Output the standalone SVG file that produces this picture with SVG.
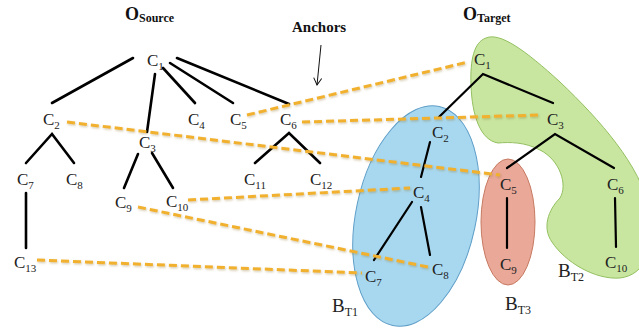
<svg xmlns="http://www.w3.org/2000/svg" width="639" height="333" viewBox="0 0 639 333">
<defs>
<style>
.lbl{font-family:"Liberation Serif","Times New Roman",serif;font-size:17px;fill:#222}
.sub{font-size:11px}
.blbl{font-family:"Liberation Serif","Times New Roman",serif;font-size:19px;fill:#222}
.bsub{font-size:12px}
.title{font-family:"Liberation Serif","Times New Roman",serif;font-weight:bold;fill:#111}
.edge{stroke:#000;stroke-width:2.6;stroke-linecap:round;fill:none}
.tedge{stroke:#000;stroke-width:2.2;stroke-linecap:round;fill:none}
.anchor{stroke:#F1B12E;stroke-width:3;stroke-dasharray:8 4;fill:none}
</style>
<filter id="sh" x="-5%" y="-50%" width="110%" height="200%">
<feDropShadow dx="0.8" dy="1.2" stdDeviation="0.8" flood-color="#806020" flood-opacity="0.35"/>
</filter>
<marker id="arr" markerWidth="10" markerHeight="10" refX="8" refY="5" orient="auto" markerUnits="userSpaceOnUse">
<path d="M1,1 L8,5 L1,9" fill="none" stroke="#111" stroke-width="1"/>
</marker>
</defs>
<rect width="639" height="333" fill="#fff"/>

<g id="blocks">
<path id="BT2-shape" d="M486,38 C500,32 525,50 560,82 C600,120 640,165 650,210 C655,250 645,275 620,278 C595,280 565,262 552,242 C542,228 548,210 560,198 C568,185 560,160 540,150 C525,142 510,142 498,143 C480,140 472,115 471,85 C470,60 474,42 486,38 Z" fill="#C8E6A0" stroke="#94C060" stroke-width="1"/>
<ellipse id="BT1-shape" cx="416" cy="216" rx="60" ry="112" transform="rotate(12 416 216)" fill="#A8D8EF" stroke="#5E9EC8" stroke-width="1"/>
<ellipse id="BT3-shape" cx="508" cy="222" rx="27" ry="63" fill="#E9A898" stroke="#C77A62" stroke-width="1"/>
</g>

<g id="titles">
<text class="title" x="125" y="20" font-size="18">O<tspan font-size="12" dy="2">Source</tspan></text>
<text class="title" x="463" y="20" font-size="18">O<tspan font-size="12" dy="2">Target</tspan></text>
<text id="anchors-label" class="title" x="292" y="32" font-size="15">Anchors</text>
<line x1="321" y1="45" x2="317" y2="85" stroke="#111" stroke-width="1" marker-end="url(#arr)"/>
</g>

<g id="connectors">
<g id="source-edges">
<line class="edge" x1="133" y1="58" x2="52" y2="103"/>
<line class="edge" x1="155" y1="74" x2="147" y2="132"/>
<line class="edge" x1="163" y1="68" x2="195" y2="103"/>
<line class="edge" x1="170" y1="63" x2="233" y2="103"/>
<line class="edge" x1="177" y1="58" x2="289" y2="104"/>
<polyline class="edge" points="26,163 52,134 74,163"/>
<polyline class="edge" points="124,188 138,154"/>
<polyline class="edge" points="152,153 173,188"/>
<polyline class="edge" points="255,163 289,133 320,163"/>
<line class="edge" x1="26" y1="193" x2="26" y2="248"/>
</g>
<g id="target-edges">
<polyline class="tedge" points="439,117 483,74 553,103"/>
<polyline class="tedge" points="507,168 555,134 614,168"/>
<line class="tedge" x1="430" y1="142" x2="421" y2="177"/>
<line class="tedge" x1="412" y1="202" x2="374" y2="260"/>
<line class="tedge" x1="421" y1="207" x2="430" y2="255"/>
<line class="tedge" x1="507" y1="198" x2="507" y2="248"/>
<line class="tedge" x1="615" y1="198" x2="616" y2="247"/>
</g>
<g id="anchor-links" filter="url(#sh)">
<line class="anchor" x1="247" y1="115" x2="468" y2="62"/>
<line class="anchor" x1="302" y1="122" x2="540" y2="115"/>
<line class="anchor" x1="67" y1="122" x2="500" y2="175"/>
<line class="anchor" x1="188" y1="200" x2="410" y2="188"/>
<line class="anchor" x1="138" y1="207" x2="428" y2="267"/>
<line class="anchor" x1="37" y1="260" x2="362" y2="273"/>
</g>
</g>

<g id="source-nodes">
<g id="s-c1"><text class="lbl" x="147" y="66">C<tspan class="sub" dy="4">1</tspan></text></g>
<g id="s-c2"><text class="lbl" x="43" y="125">C<tspan class="sub" dy="4">2</tspan></text></g>
<g id="s-c3"><text class="lbl" x="139" y="148">C<tspan class="sub" dy="4">3</tspan></text></g>
<g id="s-c4"><text class="lbl" x="188" y="125">C<tspan class="sub" dy="4">4</tspan></text></g>
<g id="s-c5"><text class="lbl" x="230" y="125">C<tspan class="sub" dy="4">5</tspan></text></g>
<g id="s-c6"><text class="lbl" x="280" y="125">C<tspan class="sub" dy="4">6</tspan></text></g>
<g id="s-c7"><text class="lbl" x="17" y="185">C<tspan class="sub" dy="4">7</tspan></text></g>
<g id="s-c8"><text class="lbl" x="66" y="185">C<tspan class="sub" dy="4">8</tspan></text></g>
<g id="s-c9"><text class="lbl" x="115" y="208">C<tspan class="sub" dy="4">9</tspan></text></g>
<g id="s-c10"><text class="lbl" x="166" y="207">C<tspan class="sub" dy="4">10</tspan></text></g>
<g id="s-c11"><text class="lbl" x="244" y="185">C<tspan class="sub" dy="4">11</tspan></text></g>
<g id="s-c12"><text class="lbl" x="310" y="185">C<tspan class="sub" dy="4">12</tspan></text></g>
<g id="s-c13"><text class="lbl" x="14" y="268">C<tspan class="sub" dy="4">13</tspan></text></g>
</g>

<g id="target-nodes">
<g id="t-c1"><text class="lbl" x="474" y="65">C<tspan class="sub" dy="4">1</tspan></text></g>
<g id="t-c2"><text class="lbl" x="432" y="138">C<tspan class="sub" dy="4">2</tspan></text></g>
<g id="t-c3"><text class="lbl" x="547" y="125">C<tspan class="sub" dy="4">3</tspan></text></g>
<g id="t-c4"><text class="lbl" x="413" y="198">C<tspan class="sub" dy="4">4</tspan></text></g>
<g id="t-c5"><text class="lbl" x="500" y="190">C<tspan class="sub" dy="4">5</tspan></text></g>
<g id="t-c6"><text class="lbl" x="607" y="190">C<tspan class="sub" dy="4">6</tspan></text></g>
<g id="t-c7"><text class="lbl" x="365" y="282">C<tspan class="sub" dy="4">7</tspan></text></g>
<g id="t-c8"><text class="lbl" x="432" y="275">C<tspan class="sub" dy="4">8</tspan></text></g>
<g id="t-c9"><text class="lbl" x="500" y="270">C<tspan class="sub" dy="4">9</tspan></text></g>
<g id="t-c10"><text class="lbl" x="605" y="268">C<tspan class="sub" dy="4">10</tspan></text></g>
</g>

<g id="block-labels">
<g id="bt1"><text class="blbl" x="332" y="312">B<tspan class="bsub" dy="4">T1</tspan></text></g>
<g id="bt2"><text class="blbl" x="558" y="277">B<tspan class="bsub" dy="4">T2</tspan></text></g>
<g id="bt3"><text class="blbl" x="505" y="310">B<tspan class="bsub" dy="4">T3</tspan></text></g>
</g>
</svg>
